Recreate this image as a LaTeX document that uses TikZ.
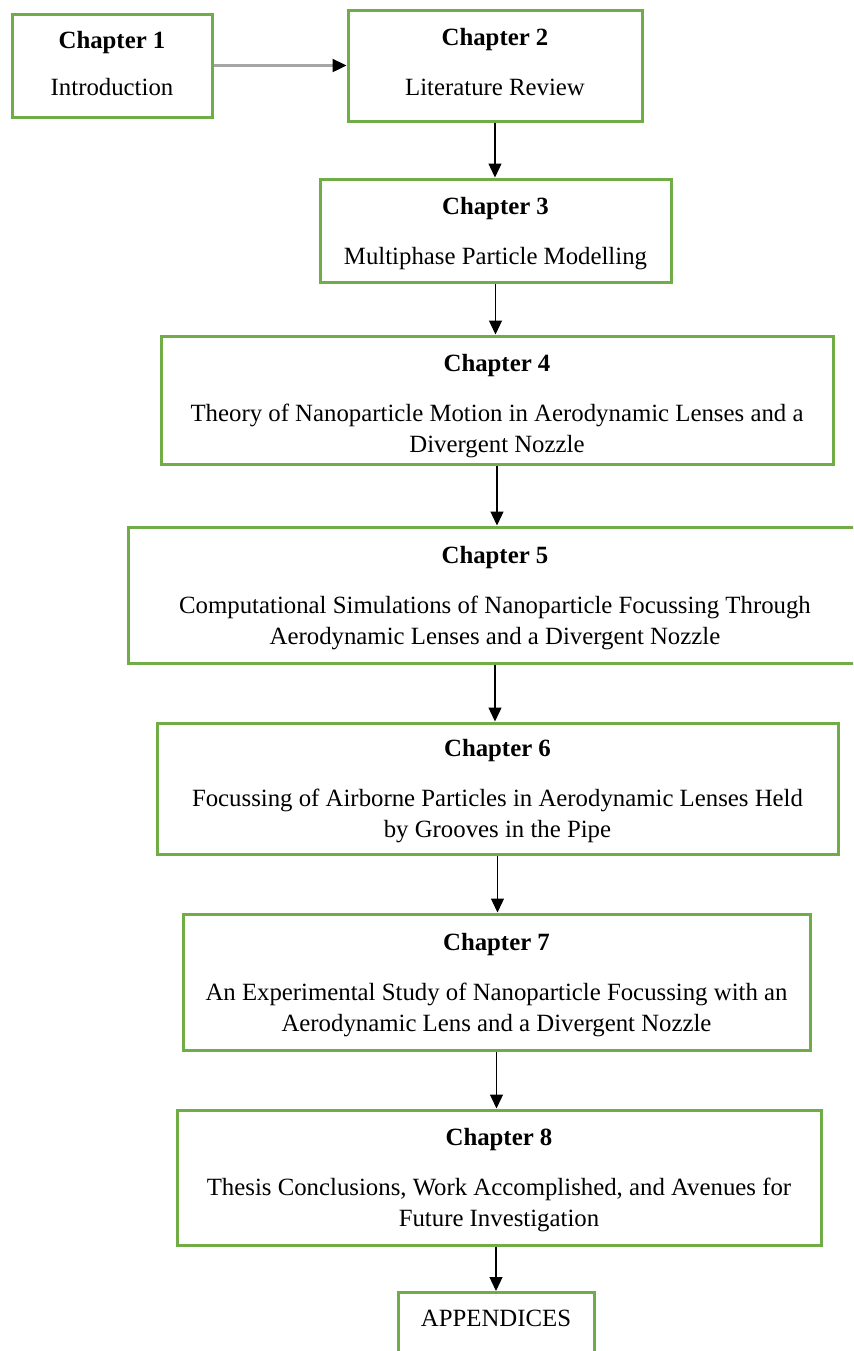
\documentclass[tikz,border=0pt]{standalone}
\usepackage{fontspec}
\setmainfont{Liberation Serif}
\usetikzlibrary{arrows.meta}
\definecolor{chapgreen}{RGB}{112,173,71}

\begin{document}
\begin{tikzpicture}[x=0.5pt,y=-0.5pt,
	chapbox/.style={draw=chapgreen, line width=1.5pt, align=center, inner sep=0pt, text depth=0pt,
		font=\fontsize{12.4}{15.5}\selectfont},
	flow/.style={-{Triangle[length=7pt,width=6.5pt]}, line width=0.6pt},
	sideflow/.style={-{Triangle[length=7pt,width=6.5pt,color=black]}, gray!70, line width=1.2pt}]
	\useasboundingbox (0,0) rectangle (853,1351);
	\clip (0,0) rectangle (853,1351);
	\node[chapbox, minimum width=100pt, minimum height=51.5pt, text depth=2.6pt] (ch1) at (112,65.5)
		{\textbf{Chapter 1}\\[8pt] Introduction};
	\node[chapbox, minimum width=147pt, minimum height=55.5pt, text depth=3.6pt] (ch2) at (495,65.5)
		{\textbf{Chapter 2}\\[9.5pt] Literature Review};
	\node[chapbox, minimum width=175.5pt, minimum height=51.5pt] (ch3) at (495.5,230.5)
		{\textbf{Chapter 3}\\[9.5pt] Multiphase Particle Modelling};
	\node[chapbox, minimum width=336pt, minimum height=64pt] (ch4) at (497,400)
		{\rule{0pt}{12pt}\textbf{Chapter 4}\\[9.5pt] Theory of Nanoparticle Motion in Aerodynamic Lenses and a\\ Divergent Nozzle};
	\node[chapbox, minimum width=367pt, minimum height=68pt] (ch5) at (495,595)
		{\textbf{Chapter 5}\\[9.5pt] Computational Simulations of Nanoparticle Focussing Through\\ Aerodynamic Lenses and a Divergent Nozzle};
	\node[chapbox, minimum width=340.5pt, minimum height=65.5pt] (ch6) at (497.5,788.5)
		{\textbf{Chapter 6}\\[9.5pt] Focussing of Airborne Particles in Aerodynamic Lenses Held\\ by Grooves in the Pipe};
	\node[chapbox, minimum width=313.5pt, minimum height=68pt] (ch7) at (496.5,982)
		{\textbf{Chapter 7}\\[9.5pt] An Experimental Study of Nanoparticle Focussing with an\\ Aerodynamic Lens and a Divergent Nozzle};
	\node[chapbox, minimum width=322pt, minimum height=67.5pt] (ch8) at (499,1177.5)
		{\textbf{Chapter 8}\\[9.5pt] Thesis Conclusions, Work Accomplished, and Avenues for\\ Future Investigation};
	\node[chapbox, minimum width=98pt, inner ysep=9pt, text depth=30pt, anchor=north] (app) at (496,1291)
		{APPENDICES};
	\draw[sideflow] (ch1.east) -- (ch2.west);
	\draw[flow] (ch2.south) -- (ch2.south |- ch3.north);
	\draw[flow] (ch3.south) -- (ch3.south |- ch4.north);
	\draw[flow] (ch4.south) -- (ch4.south |- ch5.north);
	\draw[flow] (ch5.south) -- (ch5.south |- ch6.north);
	\draw[flow] (ch6.south) -- (ch6.south |- ch7.north);
	\draw[flow] (ch7.south) -- (ch7.south |- ch8.north);
	\draw[flow] (app.north |- ch8.south) -- (app.north);
\end{tikzpicture}
\end{document}
